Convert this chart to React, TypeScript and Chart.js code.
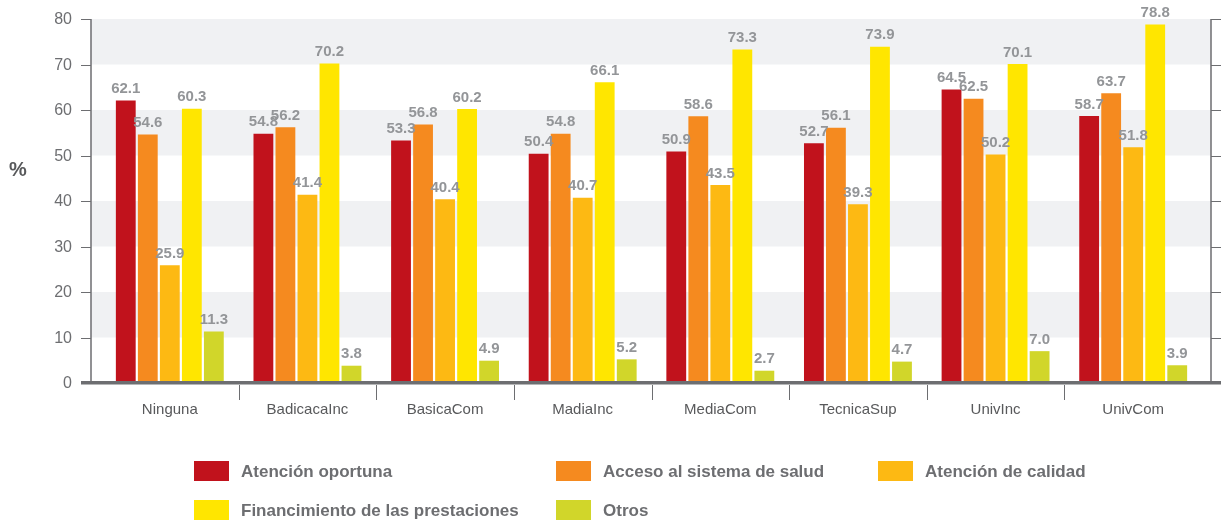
import React, { useEffect, useRef } from "react";
import { Chart, registerables } from "chart.js";

Chart.register(...registerables);

const categories = ["Ninguna", "BadicacaInc", "BasicaCom", "MadiaInc", "MediaCom", "TecnicaSup", "UnivInc", "UnivCom"];
const atencionOportuna = [62.1, 54.8, 53.3, 50.4, 50.9, 52.7, 64.5, 58.7];
const accesoSistema = [54.6, 56.2, 56.8, 54.8, 58.6, 56.1, 62.5, 63.7];
const atencionCalidad = [25.9, 41.4, 40.4, 40.7, 43.5, 39.3, 50.2, 51.8];
const financiamiento = [60.3, 70.2, 60.2, 66.1, 73.3, 73.9, 70.1, 78.8];
const otros = [11.3, 3.8, 4.9, 5.2, 2.7, 4.7, 7.0, 3.9];
const yTicks = [0, 10, 20, 30, 40, 50, 60, 70, 80];
const seriesNames = [
  "Atención oportuna",
  "Acceso al sistema de salud",
  "Atención de calidad",
  "Financimiento de las prestaciones",
  "Otros",
];
const seriesColors = ["#C1121C", "#F58A1F", "#FDB913", "#FFE600", "#D1D62A"];

const FONT = "'Liberation Sans', Arial, Helvetica, sans-serif";
const AXIS = "#6d6e71";

const decor = {
  id: "decor",
  beforeDatasetsDraw(chart: any) {
    const ctx = chart.ctx;
    const ca = chart.chartArea;
    const y = chart.scales.y;
    const axL = ca.left - 10;
    const axR = ca.right + 9;
    ctx.save();
    // bands
    ctx.fillStyle = "#F0F1F3";
    for (let v = 10; v < 80; v += 20) {
      const t = y.getPixelForValue(v + 10);
      const b = y.getPixelForValue(v);
      ctx.fillRect(axL, t, axR - axL, b - t);
    }
    ctx.strokeStyle = AXIS;
    ctx.lineWidth = 1.5;
    const top = y.getPixelForValue(80);
    const y0 = y.getPixelForValue(0);
    ctx.beginPath();
    ctx.moveTo(axL, top);
    ctx.lineTo(axL, y0);
    ctx.moveTo(axR, top);
    ctx.lineTo(axR, y0);
    ctx.stroke();
    ctx.lineWidth = 1.2;
    ctx.beginPath();
    yTicks.forEach((v) => {
      const py = Math.round(y.getPixelForValue(v)) + 0.5;
      ctx.moveTo(axL - 10, py);
      ctx.lineTo(axL, py);
      ctx.moveTo(axR, py);
      ctx.lineTo(axR + 10, py);
    });
    ctx.stroke();
    ctx.restore();
  },
  afterDatasetsDraw(chart: any) {
    const ctx = chart.ctx;
    const ca = chart.chartArea;
    const x = chart.scales.x;
    const y = chart.scales.y;
    const y0 = y.getPixelForValue(0);
    ctx.save();
    // baseline
    ctx.fillStyle = AXIS;
    ctx.fillRect(ca.left - 20, y0 - 2, chart.width - (ca.left - 20), 3.5);
    // separators
    ctx.strokeStyle = AXIS;
    ctx.lineWidth = 1;
    ctx.beginPath();
    for (let i = 1; i < categories.length; i++) {
      const px = Math.round((x.getPixelForValue(i - 1) + x.getPixelForValue(i)) / 2) + 0.5;
      ctx.moveTo(px, y0 + 2);
      ctx.lineTo(px, y0 + 17);
    }
    ctx.stroke();
    // data labels
    ctx.font = `bold 15px ${FONT}`;
    ctx.fillStyle = "#939598";
    ctx.textAlign = "center";
    ctx.textBaseline = "bottom";
    chart.data.datasets.forEach((ds: any, di: number) => {
      const meta = chart.getDatasetMeta(di);
      meta.data.forEach((el: any, i: number) => {
        ctx.fillText(Number(ds.data[i]).toFixed(1), el.x, el.y - 4);
      });
    });
    ctx.restore();
  },
  afterDraw(chart: any) {
    const ctx = chart.ctx;
    const ca = chart.chartArea;
    const x = chart.scales.x;
    const y = chart.scales.y;
    ctx.save();
    // y tick labels
    ctx.font = `16px ${FONT}`;
    ctx.fillStyle = AXIS;
    ctx.textAlign = "right";
    ctx.textBaseline = "middle";
    yTicks.forEach((v) => {
      ctx.fillText(String(v), ca.left - 29, y.getPixelForValue(v) + 1);
    });
    // % label
    ctx.font = `bold 20px ${FONT}`;
    ctx.fillStyle = "#58595b";
    ctx.textAlign = "left";
    ctx.fillText("%", 9, 170);
    // category labels
    ctx.font = `15px ${FONT}`;
    ctx.fillStyle = "#58595b";
    ctx.textAlign = "center";
    categories.forEach((c, i) => {
      ctx.fillText(c, x.getPixelForValue(i), 410);
    });
    // legend
    const pos = [
      [194, 461],
      [556, 461],
      [878, 461],
      [194, 500],
      [556, 500],
    ];
    ctx.font = `bold 17px ${FONT}`;
    ctx.textAlign = "left";
    ctx.textBaseline = "middle";
    seriesNames.forEach((n, i) => {
      const [bx, by] = pos[i];
      ctx.fillStyle = seriesColors[i];
      ctx.fillRect(bx, by, 35, 20);
      ctx.fillStyle = AXIS;
      ctx.fillText(n, bx + 47, by + 11);
    });
    ctx.restore();
  },
};

export default function App() {
  const ref = useRef<HTMLCanvasElement | null>(null);
  useEffect(() => {
    document.body.style.margin = "0";
    const canvas = ref.current!;
    const data = [atencionOportuna, accesoSistema, atencionCalidad, financiamiento, otros];
    const chart = new Chart(canvas, {
      type: "bar",
      data: {
        labels: categories,
        datasets: data.map((d, i) => ({
          label: seriesNames[i],
          data: d,
          backgroundColor: seriesColors[i],
          borderWidth: 0,
          categoryPercentage: 0.8,
          barPercentage: 0.9,
        })),
      },
      options: {
        responsive: false,
        animation: false,
        devicePixelRatio: 1,
        layout: { padding: { left: 101, right: 19, top: 19, bottom: 138 } },
        plugins: { legend: { display: false }, tooltip: { enabled: false } },
        scales: {
          x: { display: false },
          y: { display: false, min: 0, max: 80 },
        },
      },
      plugins: [decor],
    });
    return () => chart.destroy();
  }, []);
  return (
    <div style={{ width: 1221, height: 521 }}>
      <canvas ref={ref} width={1221} height={521} style={{ display: "block" }} />
    </div>
  );
}
